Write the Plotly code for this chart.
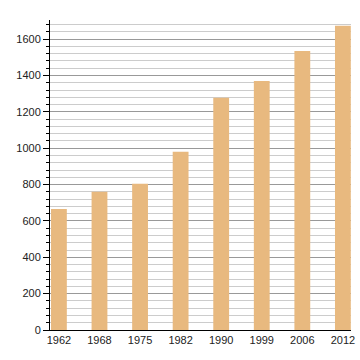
import plotly.graph_objects as go

years = ["1962", "1968", "1975", "1982", "1990", "1999", "2006", "2012"]
population = [666, 760, 804, 980, 1277, 1370, 1535, 1673]

fig = go.Figure()
fig.add_trace(go.Bar(
    x=years, y=population,
    marker=dict(color="#E8B97F", line=dict(width=0)),
    width=0.39,
))

fig.update_layout(
    width=360, height=360,
    margin=dict(l=50, r=9, t=20, b=30, autoexpand=False),
    paper_bgcolor="white", plot_bgcolor="white",
    showlegend=False,
    font=dict(family="Liberation Sans, Arial, sans-serif", size=11, color="#222"),
    xaxis=dict(
        type="category", range=[-0.22, 7.2], automargin=False,
        showline=True, linecolor="black", linewidth=1,
        ticks="", ticklen=0, showgrid=False, tickfont=dict(size=11),
    ),
    yaxis=dict(
        range=[0, 1705], dtick=200, tick0=0, automargin=False,
        showline=True, linecolor="black", linewidth=1,
        ticks="outside", ticklen=6, tickcolor="black",
        showgrid=True, gridcolor="#999999", gridwidth=1,
        zeroline=False, tickfont=dict(size=11),
        minor=dict(dtick=40, showgrid=True, gridcolor="#cccccc", gridwidth=1,
                   ticks="outside", ticklen=3, tickcolor="black"),
    ),
)

fig.write_html(
    "out.html",
    config={"displayModeBar": False, "staticPlot": True},
    post_script="document.body.style.margin='0';document.body.style.overflow='hidden';",
)
